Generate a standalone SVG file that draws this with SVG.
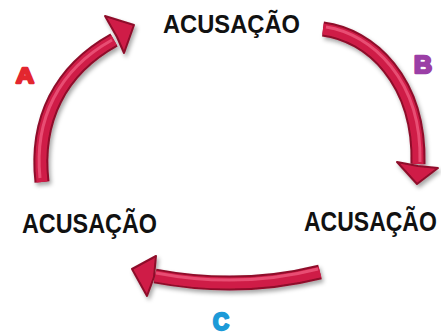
<svg xmlns="http://www.w3.org/2000/svg" width="441" height="334" viewBox="0 0 441 334">
<defs>
<filter id="sh" x="-20%" y="-20%" width="140%" height="140%">
<feDropShadow dx="2" dy="3" stdDeviation="2" flood-color="#000" flood-opacity="0.35"/>
</filter>
</defs>
<style>
.lbl{font-family:"Liberation Sans",Arial,sans-serif;font-weight:bold;fill:#111;}
.key{font-family:"Liberation Sans",Arial,sans-serif;font-weight:bold;stroke-width:2.4;stroke-linejoin:round;}
.edge{fill:none;stroke:#8e0c2a;stroke-width:15;stroke-linecap:butt;}
.core{fill:none;stroke:#cf1d47;stroke-width:11;}
.hl{fill:none;stroke:#ee5a7e;stroke-width:3;opacity:0.8;}
.head{fill:#cf1d47;stroke:#8e0c2a;stroke-width:2;stroke-linejoin:round;}
</style>
<rect width="441" height="334" fill="#fff"/>
<g id="connectors">
<g id="arrowA" filter="url(#sh)">
<path class="edge" d="M42 182 C35 120 60 70 114 40"/>
<path class="core" d="M42 182 C35 120 60 70 114 40"/>
<path class="hl" d="M40 178 C34 120 58 70 112 40"/>
<polygon class="head" points="105,16 134,25 124,53 117,37"/>
</g>
<g id="arrowB" filter="url(#sh)">
<path class="edge" d="M323 29 C370 35 420 80 418 164"/>
<path class="core" d="M323 29 C370 35 420 80 418 164"/>
<path class="hl" d="M326 27 C372 34 422 80 420 162"/>
<polygon class="head" points="397,162 417,184 438,168 418,166"/>
</g>
<g id="arrowC" filter="url(#sh)">
<path class="edge" d="M320 272 Q240 292 155 276"/>
<path class="core" d="M320 272 Q240 292 155 276"/>
<path class="hl" d="M318 269 Q240 289 156 273"/>
<polygon class="head" points="156,256 132,269 147,296 154,277"/>
</g>
</g>
<g id="node-top"><text class="lbl" x="163" y="33" font-size="25" textLength="137" lengthAdjust="spacingAndGlyphs">ACUSAÇÃO</text></g>
<g id="node-left"><text class="lbl" x="22" y="233" font-size="27" textLength="135" lengthAdjust="spacingAndGlyphs">ACUSAÇÃO</text></g>
<g id="node-right"><text class="lbl" transform="translate(304 231) scale(1 1.18)" x="0" y="0" font-size="23">ACUSAÇÃO</text></g>
<g id="label-A"><text class="key" x="16" y="83" font-size="22" fill="#e3262f" stroke="#e3262f" textLength="18" lengthAdjust="spacingAndGlyphs">A</text></g>
<g id="label-B"><text class="key" x="414" y="73" font-size="23" fill="#9b3fa6" stroke="#9b3fa6" textLength="18" lengthAdjust="spacingAndGlyphs">B</text></g>
<g id="label-C"><text class="key" x="213" y="330" font-size="23" fill="#1c9ad8" stroke="#1c9ad8" textLength="16" lengthAdjust="spacingAndGlyphs">C</text></g>
</svg>
